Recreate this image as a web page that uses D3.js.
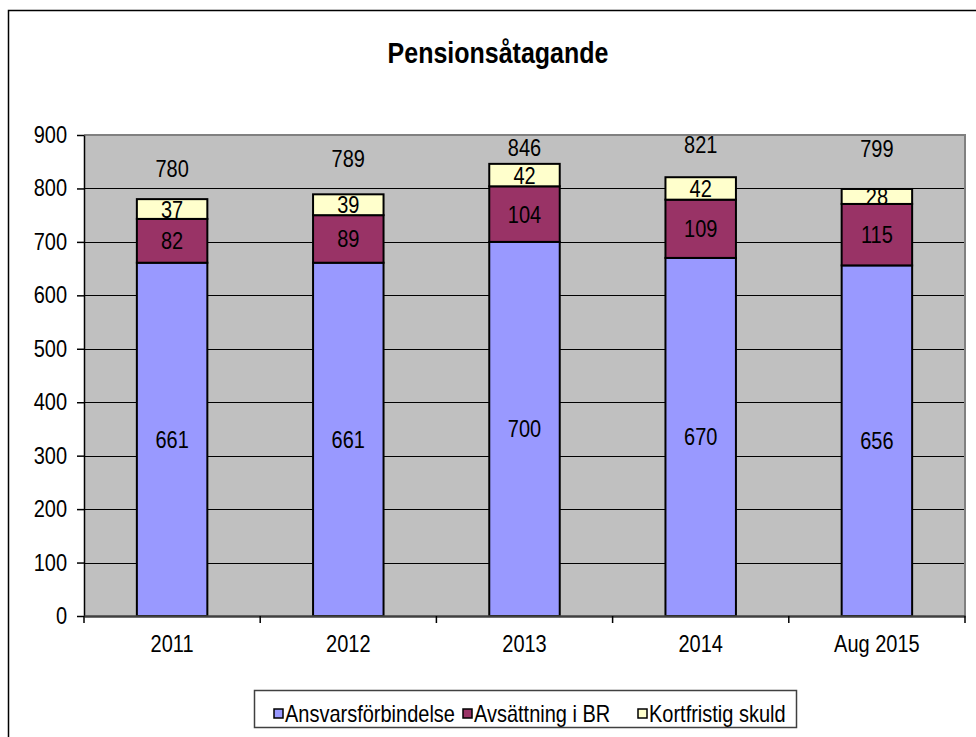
<!DOCTYPE html>
<html>
<head>
<meta charset="utf-8">
<script src="https://cdn.jsdelivr.net/npm/d3@7"></script>
<style>
  body { margin: 0; background: #fff; }
  text { font-family: Arial, "Liberation Sans", sans-serif; fill: #000; }
</style>
</head>
<body>
<div id="chart"></div>
<script>
// data
const categories = ['2011', '2012', '2013', '2014', 'Aug 2015'];
const seriesNames = ['Ansvarsförbindelse', 'Avsättning i BR', 'Kortfristig skuld'];
const ansvarsforbindelse = [661, 661, 700, 670, 656];
const avsattningBR = [82, 89, 104, 109, 115];
const kortfristigSkuld = [37, 39, 42, 42, 28];
const totals = [780, 789, 846, 821, 799];
const yTicks = [0, 100, 200, 300, 400, 500, 600, 700, 800, 900];

const width = 976, height = 737;
const plot = { left: 84, top: 135, right: 965, bottom: 616 };
const colors = ['#9999ff', '#993366', '#ffffcc'];
// how far (px) the excel total labels sit above each bar top
const totalLift = [31, 36, 16, 33, 40];
// the source picture is a bit stretched vertically, text looks taller
const textStretch = 1.18;

const svg = d3.select('#chart').append('svg')
    .attr('width', width)
    .attr('height', height);

// outer chart frame (runs off the right and bottom edge)
svg.append('rect')
    .attr('x', 8.5).attr('y', 10.5)
    .attr('width', width + 20).attr('height', height + 20)
    .attr('fill', '#fff')
    .attr('stroke', '#000')
    .attr('stroke-width', 1.5);

svg.append('text')
    .attr('x', 498).attr('y', 63)
    .attr('text-anchor', 'middle')
    .style('font-size', '25px')
    .style('font-weight', 'bold')
    .text('Pensionsåtagande');

const x = d3.scaleBand()
    .domain(categories)
    .range([plot.left, plot.right]);

const y = d3.scaleLinear()
    .domain([0, 900])
    .range([plot.bottom, plot.top]);

// plot background
svg.append('rect')
    .attr('x', plot.left).attr('y', plot.top)
    .attr('width', plot.right - plot.left)
    .attr('height', plot.bottom - plot.top)
    .attr('fill', '#c0c0c0');

// gridlines
svg.append('g').selectAll('line')
    .data(yTicks.filter(d => d > 0 && d < 900))
    .join('line')
    .attr('x1', plot.left).attr('x2', plot.right)
    .attr('y1', d => Math.round(y(d)) + 0.5).attr('y2', d => Math.round(y(d)) + 0.5)
    .attr('stroke', '#000')
    .attr('stroke-width', 1);

// plot border top / right
svg.append('path')
    .attr('d', `M${plot.left},${plot.top}H${plot.right}V${plot.bottom}`)
    .attr('fill', 'none')
    .attr('stroke', '#808080')
    .attr('stroke-width', 2);

// stacked bars
const rows = categories.map((c, i) => ({
    cat: c,
    [seriesNames[0]]: ansvarsforbindelse[i],
    [seriesNames[1]]: avsattningBR[i],
    [seriesNames[2]]: kortfristigSkuld[i]
}));
const stacked = d3.stack().keys(seriesNames)(rows);

const barW = x.bandwidth() * 0.4;

const layer = svg.append('g').selectAll('g')
    .data(stacked)
    .join('g')
    .attr('fill', (d, i) => colors[i]);

layer.selectAll('rect')
    .data(d => d)
    .join('rect')
    .attr('x', d => x(d.data.cat) + (x.bandwidth() - barW) / 2)
    .attr('y', d => y(d[1]))
    .attr('width', barW)
    .attr('height', d => y(d[0]) - y(d[1]))
    .attr('stroke', '#000')
    .attr('stroke-width', 2);

layer.selectAll('text')
    .data(d => d)
    .join('text')
    .attr('x', d => x(d.data.cat) + x.bandwidth() / 2)
    .attr('y', d => (y(d[0]) + y(d[1])) / 2)
    .attr('dy', '0.36em')
    .attr('text-anchor', 'middle')
    .style('font-size', '20px')
    .text(d => d[1] - d[0]);

// totals above bars
svg.append('g').selectAll('text')
    .data(totals)
    .join('text')
    .attr('x', (d, i) => x(categories[i]) + x.bandwidth() / 2)
    .attr('y', (d, i) => y(d) - totalLift[i])
    .attr('dy', '0.36em')
    .attr('text-anchor', 'middle')
    .style('font-size', '20px')
    .text(d => d);

// y axis
const yAxis = svg.append('g')
    .attr('transform', `translate(${plot.left},0)`)
    .call(d3.axisLeft(y).tickValues(yTicks).tickSize(7).tickSizeOuter(0).tickPadding(10));
yAxis.select('.domain').attr('stroke', '#000').attr('stroke-width', 1.5);
yAxis.selectAll('.tick line').attr('stroke', '#000').attr('stroke-width', 1.5);
yAxis.selectAll('text').style('font-size', '20px').attr('fill', '#000');

// x axis: labels at band centres, ticks on band edges
const xAxis = svg.append('g')
    .attr('transform', `translate(0,${plot.bottom})`)
    .call(d3.axisBottom(x).tickSize(0).tickPadding(19));
xAxis.select('.domain').attr('stroke', '#404040').attr('stroke-width', 2.5);
xAxis.selectAll('text').style('font-size', '20px').attr('fill', '#000');

const edges = categories.map(c => x(c)).concat([plot.right]);
svg.append('g').selectAll('line')
    .data(edges)
    .join('line')
    .attr('x1', d => d).attr('x2', d => d)
    .attr('y1', plot.bottom).attr('y2', plot.bottom + 7)
    .attr('stroke', '#000')
    .attr('stroke-width', 1.5);

// legend
const legend = svg.append('g');
legend.append('rect')
    .attr('x', 254.5).attr('y', 690.5)
    .attr('width', 542).attr('height', 37)
    .attr('fill', '#fff')
    .attr('stroke', '#404040')
    .attr('stroke-width', 1.5);

const legendX = [274, 463, 638];
const item = legend.selectAll('g.item')
    .data(seriesNames)
    .join('g')
    .attr('class', 'item')
    .attr('transform', (d, i) => `translate(${legendX[i]},709)`);
item.append('rect')
    .attr('width', 9).attr('height', 9)
    .attr('fill', (d, i) => colors[i])
    .attr('stroke', '#000')
    .attr('stroke-width', 1.5);
item.append('text')
    .attr('x', 11).attr('y', 4.5)
    .attr('dy', '0.36em')
    .style('font-size', '20px')
    .text(d => d);

// stretch every label vertically around its anchor point
svg.selectAll('text').each(function () {
    const t = d3.select(this);
    const tx = +t.attr('x') || 0, ty = +t.attr('y') || 0;
    t.attr('transform', `translate(${tx},${ty}) scale(1,${textStretch}) translate(${-tx},${-ty})`);
});
</script>
</body>
</html>
